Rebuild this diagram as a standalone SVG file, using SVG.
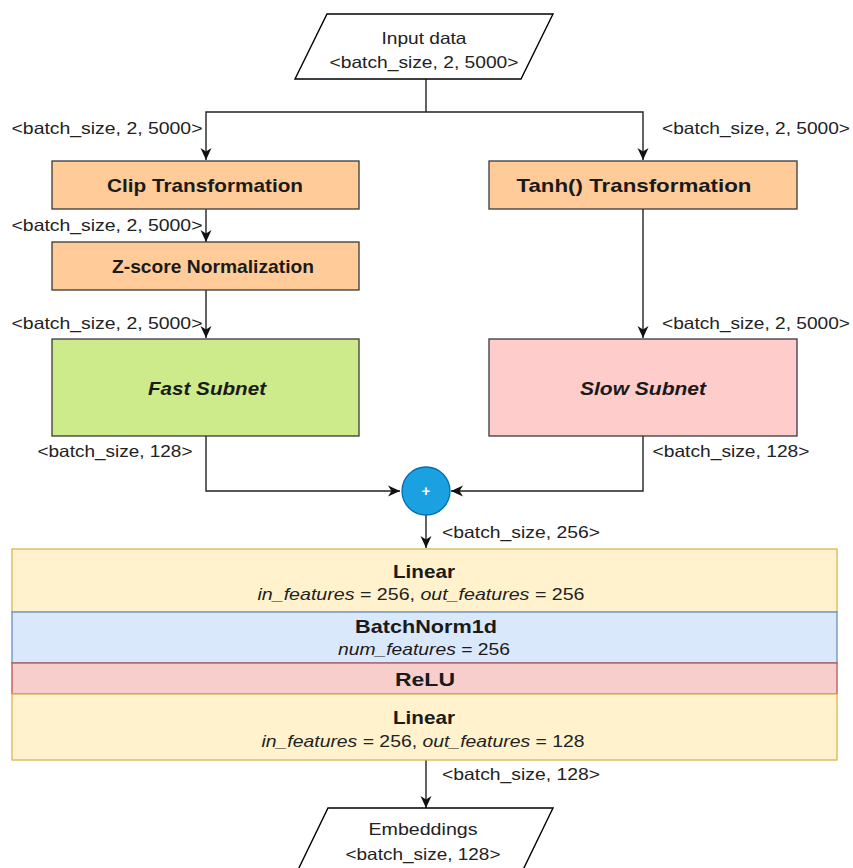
<svg xmlns="http://www.w3.org/2000/svg" width="853" height="868" viewBox="0 0 853 868">
<style>
text{font-family:"Liberation Sans",Arial,sans-serif;fill:#1a1a1a;text-anchor:middle}
.lbl{font-size:16.5px;fill:#222}
.t{font-size:19px;font-weight:bold}
.it{font-size:16.5px;font-style:italic}
.sub{font-size:19px;font-weight:bold;font-style:italic}
.orange{fill:#ffcc99;stroke:#36393d;stroke-width:1.3}
.wire{fill:none;stroke:#222;stroke-width:1.4}
.io{fill:#fff;stroke:#000;stroke-width:1.4}
</style>
<defs>
<marker id="ah" markerWidth="14" markerHeight="14" refX="12" refY="7" orient="auto" markerUnits="userSpaceOnUse">
<path d="M0,1.5 L12,7 L0,12.5 L3.5,7 Z" fill="#111"/>
</marker>
</defs>
<rect width="853" height="868" fill="#fff"/>

<g id="connectors">
<path class="wire" d="M426,79 V112"/>
<path class="wire" d="M426,112 H206 V160" marker-end="url(#ah)"/>
<path class="wire" d="M426,112 H643 V160" marker-end="url(#ah)"/>
<path class="wire" d="M206,209 V242" marker-end="url(#ah)"/>
<path class="wire" d="M206,290 V338" marker-end="url(#ah)"/>
<path class="wire" d="M643,209 V338" marker-end="url(#ah)"/>
<path class="wire" d="M206,436 V491 H400" marker-end="url(#ah)"/>
<path class="wire" d="M643,436 V491 H451" marker-end="url(#ah)"/>
<path class="wire" d="M426,515 V548" marker-end="url(#ah)"/>
<path class="wire" d="M426,760 V808" marker-end="url(#ah)"/>
</g>

<g id="labels">
<text class="lbl" x="107" y="134" textLength="191" lengthAdjust="spacingAndGlyphs">&lt;batch_size, 2, 5000&gt;</text>
<text class="lbl" x="756" y="134" textLength="188" lengthAdjust="spacingAndGlyphs">&lt;batch_size, 2, 5000&gt;</text>
<text class="lbl" x="107" y="231" textLength="191" lengthAdjust="spacingAndGlyphs">&lt;batch_size, 2, 5000&gt;</text>
<text class="lbl" x="107" y="329" textLength="191" lengthAdjust="spacingAndGlyphs">&lt;batch_size, 2, 5000&gt;</text>
<text class="lbl" x="756" y="329" textLength="188" lengthAdjust="spacingAndGlyphs">&lt;batch_size, 2, 5000&gt;</text>
<text class="lbl" x="115" y="457" textLength="155" lengthAdjust="spacingAndGlyphs">&lt;batch_size, 128&gt;</text>
<text class="lbl" x="731" y="457" textLength="157" lengthAdjust="spacingAndGlyphs">&lt;batch_size, 128&gt;</text>
<text class="lbl" x="521" y="538" textLength="158" lengthAdjust="spacingAndGlyphs">&lt;batch_size, 256&gt;</text>
<text class="lbl" x="521" y="780" textLength="158" lengthAdjust="spacingAndGlyphs">&lt;batch_size, 128&gt;</text>
</g>

<g id="input">
<polygon class="io" points="327,14 553,14 521,79 295,79"/>
<text class="lbl" x="424" y="44" textLength="85" lengthAdjust="spacingAndGlyphs">Input data</text>
<text class="lbl" x="424" y="68" textLength="189" lengthAdjust="spacingAndGlyphs">&lt;batch_size, 2, 5000&gt;</text>
</g>

<g id="clip">
<rect class="orange" x="52" y="161" width="307" height="48"/>
<text class="t" x="205" y="192" textLength="196" lengthAdjust="spacingAndGlyphs">Clip Transformation</text>
</g>

<g id="tanh">
<rect class="orange" x="489" y="161" width="308" height="48"/>
<text class="t" x="634" y="192" textLength="235" lengthAdjust="spacingAndGlyphs">Tanh() Transformation</text>
</g>

<g id="zscore">
<rect class="orange" x="52" y="242" width="307" height="48"/>
<text class="t" x="213" y="273" textLength="202" lengthAdjust="spacingAndGlyphs">Z-score Normalization</text>
</g>

<g id="fast">
<rect x="52" y="339" width="307" height="97" fill="#cdeb8b" stroke="#36393d" stroke-width="1.3"/>
<text class="sub" x="207" y="395" textLength="118" lengthAdjust="spacingAndGlyphs">Fast Subnet</text>
</g>

<g id="slow">
<rect x="489" y="339" width="308" height="97" fill="#ffcccc" stroke="#36393d" stroke-width="1.3"/>
<text class="sub" x="643" y="395" textLength="126" lengthAdjust="spacingAndGlyphs">Slow Subnet</text>
</g>

<g id="concat">
<circle cx="426" cy="491" r="24" fill="#1ba1e2" stroke="#006eaf" stroke-width="1.3"/>
<text x="426" y="496" style="font-size:15px;font-weight:bold;fill:#fff">+</text>
</g>

<g id="linear1">
<rect x="12" y="549" width="825" height="63" fill="#fff2cc" stroke="#d6b656" stroke-width="1.3"/>
<text class="t" x="424" y="578" textLength="62" lengthAdjust="spacingAndGlyphs">Linear</text>
<text class="lbl" x="421" y="600" textLength="327" lengthAdjust="spacingAndGlyphs"><tspan font-style="italic">in_features</tspan> = 256, <tspan font-style="italic">out_features</tspan> = 256</text>
</g>

<g id="batchnorm">
<rect x="12" y="612" width="825" height="51" fill="#dae8fc" stroke="#6c8ebf" stroke-width="1.3"/>
<text class="t" x="426" y="633" textLength="142" lengthAdjust="spacingAndGlyphs">BatchNorm1d</text>
<text class="it" x="424" y="655" textLength="172" lengthAdjust="spacingAndGlyphs">num_features<tspan font-style="normal"> = 256</tspan></text>
</g>

<g id="relu">
<rect x="12" y="663" width="825" height="31" fill="#f8cecc" stroke="#b85450" stroke-width="1.3"/>
<text class="t" x="425" y="686" textLength="60" lengthAdjust="spacingAndGlyphs">ReLU</text>
</g>

<g id="linear2">
<rect x="12" y="694" width="825" height="66" fill="#fff2cc" stroke="#d6b656" stroke-width="1.3"/>
<text class="t" x="424" y="724" textLength="62" lengthAdjust="spacingAndGlyphs">Linear</text>
<text class="lbl" x="423" y="747" textLength="323" lengthAdjust="spacingAndGlyphs"><tspan font-style="italic">in_features</tspan> = 256, <tspan font-style="italic">out_features</tspan> = 128</text>
</g>

<g id="embeddings">
<polygon class="io" points="328,808 553,808 521,874 296,874"/>
<text class="lbl" x="423" y="835" textLength="109" lengthAdjust="spacingAndGlyphs">Embeddings</text>
<text class="lbl" x="423" y="860" textLength="155" lengthAdjust="spacingAndGlyphs">&lt;batch_size, 128&gt;</text>
</g>
</svg>
